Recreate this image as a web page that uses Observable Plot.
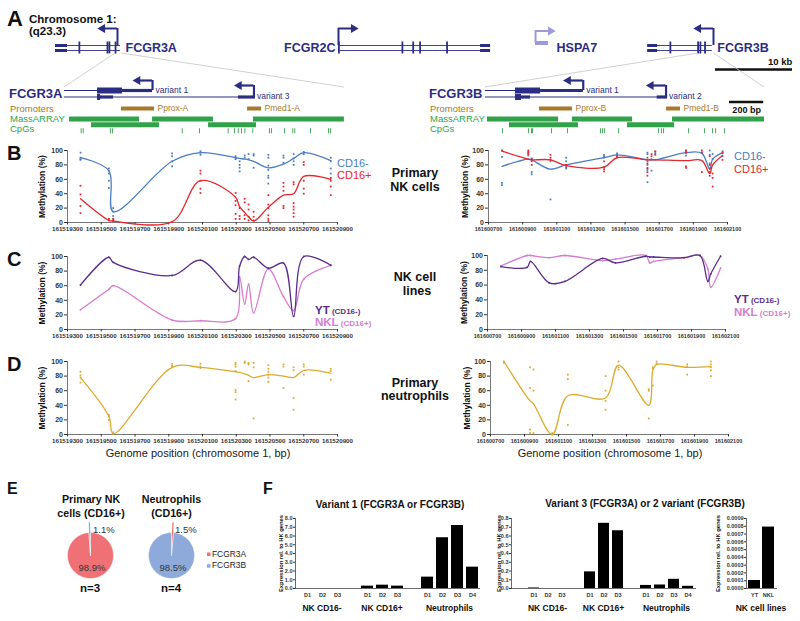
<!DOCTYPE html>
<html><head><meta charset="utf-8">
<script src="https://cdn.jsdelivr.net/npm/d3@7"></script>
<script src="https://cdn.jsdelivr.net/npm/@observablehq/plot@0.6"></script>
<style>
html,body{margin:0;padding:0;background:#fff}
#fig{position:relative;width:800px;height:621px;overflow:hidden;background:#fff}
</style></head>
<body><div id="fig"></div>
<script>
// ---------------- DATA ----------------
// Panel A, chromosome overview (kb from left end of shown region)
const topGenes = [
  {name: "FCGR3A", start: 0, end: 8.44, strand: "-", tss: 8.05},
  {name: "FCGR2C", start: 36.75, end: 56.5, strand: "+", tss: 36.75},
  {name: "FCGR3B", start: 76.9, end: 85.3, strand: "-", tss: 85.45}
];
const hspa7 = [{name: "HSPA7", start: 62.34, end: 64.03, strand: "+", tss: 62.34}];
const topUtr = [{start: 0, end: 1.56}, {start: 55.2, end: 56.5}, {start: 76.9, end: 78.2}];
const topExons = [3.1, 6.75, 7.0, 7.8, 36.8, 45.05, 46.45, 47.35, 50.85, 79.85, 83.45, 83.75, 84.35];
const topScaleKb = 10;

// Panel A, FCGR3A detail (chr1 bp)
const fcgr3aTranscripts = [
  {label: "variant 1", start: 161519282, tss: 161519804, strand: "-"},
  {label: "variant 3", start: 161519282, tss: 161520405, strand: "-"}
];
const fcgr3aExons = [
  {t: 0, start: 161519478, end: 161519626, kind: "cds"},
  {t: 0, start: 161519626, end: 161519804, kind: "utr"},
  {t: 1, start: 161519478, end: 161519496, kind: "cds"},
  {t: 1, start: 161519478, end: 161519573, kind: "utr"},
  {t: 1, start: 161520313, end: 161520414, kind: "utr"}
];
const fcgr3aPromoters = [{name: "Pprox-A", start: 161519620, end: 161519816}, {name: "Pmed1-A", start: 161520367, end: 161520450}];
const fcgr3aMassArray = [[161519312, 161519727], [161519442, 161519845], [161519804, 161520165], [161520136, 161520420], [161520402, 161520941]];
const fcgr3aCpGs = [161519381, 161519393, 161519555, 161519567, 161519980, 161520082, 161520252, 161520290, 161520312, 161520331, 161520351, 161520398, 161520497, 161520509, 161520586, 161520635, 161520647, 161520740, 161520847, 161520859];

// Panel A, FCGR3B detail (chr1 bp)
const fcgr3bTranscripts = [
  {label: "variant 1", start: 161600682, tss: 161601255, strand: "-"},
  {label: "variant 2", start: 161600682, tss: 161601740, strand: "-"}
];
const fcgr3bExons = [
  {t: 0, start: 161600858, end: 161601005, kind: "cds"},
  {t: 0, start: 161601005, end: 161601255, kind: "utr"},
  {t: 1, start: 161600858, end: 161600893, kind: "cds"},
  {t: 1, start: 161600858, end: 161600946, kind: "utr"},
  {t: 1, start: 161601688, end: 161601749, kind: "utr"}
];
const fcgr3bPromoters = [{name: "Pprox-B", start: 161600999, end: 161601192}, {name: "Pmed1-B", start: 161601743, end: 161601825}];
const fcgr3bMassArray = [[161600694, 161601110], [161600823, 161601227], [161601192, 161601544], [161601514, 161601790], [161601778, 161602317]];
const fcgr3bCpGs = [161600782, 161600934, 161600952, 161600958, 161601069, 161601163, 161601356, 161601368, 161601380, 161601462, 161601696, 161601713, 161601725, 161601872, 161601965, 161602012, 161602030, 161602082];
const detailScaleBar = {start: 161602112, length: 200};

// Methylation: CpG unit positions
const posA = [161519377, 161519545, 161519571, 161519920, 161520088, 161520296, 161520320, 161520350, 161520373, 161520403, 161520490, 161520580, 161520640, 161520700, 161520860];
const posB = [161600779, 161600933, 161600953, 161601063, 161601155, 161601377, 161601453, 161601631, 161601655, 161601677, 161601857, 161601950, 161601996, 161602013, 161602071];
const ticksA = [161519300, 161519500, 161519700, 161519900, 161520100, 161520300, 161520500, 161520700, 161520900];
const ticksB = [161600700, 161600900, 161601100, 161601300, 161601500, 161601700, 161601900, 161602100];
const methTicks = [0, 20, 40, 60, 80, 100];

// B: primary NK cells
const bNkNegA = [[97,90,88,87],[75,72,68,58,48],[20,15,9,5],[96,92,85,78],[99,97,94],[92,89,88],[85,80,76,71],[93,90],[95,88],[95,93,76],[94,90,79,73,65,62,54],[93,90,83],[95,89,85,80],[98,95],[90,85,75,68]];
const bNkNegAFit = [90,72,15,85,97,90,89,88,87,85,76,81,89,97,86];
const bNkPosA = [[51,39,23,13],[5,3],[5,3,2],[1],[72,68,58,47,41],[41,30,24,12,5],[20,9,5],[33,28,10,5],[25,18,8,3],[15,8,3],[38,25,20,10,5,2],[55,50,44,23,20],[56,53,27,22,18,13,8],[84,80,58,47,40],[62,58,50,38]];
const bNkPosAFit = [33,3,2,1,58,35,22,14,8,2,21,38,40,64,60];
const bNkNegB = [[91,55,52],[98,93],[89,87,70,67],[85,32],[90,85,80,75],[94,92,90],[96,94],[97,95,85,80,76,73,56],[88,72],[98,96],[99,97,93],[],[100,94,82],[95,88],[99,96,92]];
const bNkNegBFit = [78,88,87,74,80,90,94,87,87,87,97,96,74,88,97];
const bNkPosB = [[100],[100,97,95],[88,85,80],[94,90,87],[80,77],[85,77,74,71],[92,90],[90,82,75,70,65],[95,92],[99,94],[100,97,78,76],[100,97,70],[92,80,75,70,65],[68,62,50],[97,87]];
const bNkPosBFit = [99,88,87,87,79,77,90,87,87,87,86,86,68,80,93];

// C: NK cell lines
const cYtA  = [61,99,92,74,95,52,87,100,96,99,84,91,18,100,88];
const cNklA = [27,55,60,13,12,15,72,35,62,23,83,45,26,69,88];
const cYtB  = [85,84,92,63,65,96,90,99,98,98,97,100,65,75,99];
const cNklB = [86,100,100,97,100,93,95,100,90,92,97,100,82,57,83];

// D: primary neutrophils
const dNeutA = [[86,81,78,71],[27,25,20],[3,1],[97,94,92],[97,93,91],[98,96,93,87,61,58,48],[],[100,98],[98,96,73],[98,92,22],[95,90,86,82,78,72],[96,93,64],[92,88,50,34],[96,93,82],[90,87,75]];
const dNeutAFit = [78,25,1,92,92,86,85,83,81,78,82,80,78,88,84];
const dNeutB = [[100,98],[92,64,7,2],[89,60,2],[2,0],[82,76,13],[80,60,46,34],[100,92,89],[62,60,22],[92,90,67],[100,97],[96,93,82],[],[100,96,92,88,80],[],[]];
const dNeutBFit = [100,46,42,0,53,50,95,40,88,96,92,null,93,null,null];

// E: pies (FCGR3A, FCGR3B %)
const pieGenes = ["FCGR3A", "FCGR3B"];
const pieNK = [98.9, 1.1];
const pieNeut = [1.5, 98.5];

// F: expression bars
const fGroups = ["NK CD16-", "NK CD16+", "Neutrophils"];
const fDonors = [["D1","D2","D3"], ["D1","D2","D3"], ["D1","D2","D3","D4"]];
const v1Values = [[0, 0, 0], [0.27, 0.38, 0.27], [1.3, 5.8, 7.2, 2.44]];
const v3Values = [[0.006, 0, 0], [0.19, 0.745, 0.66], [0.035, 0.04, 0.105, 0.025]];
const cellLines = ["YT", "NKL"];
const v3CellLineValues = [0.000103, 0.00079];
const v1Ticks = [0, 1, 2, 3, 4, 5, 6, 7, 8];
const v3Ticks = [0, 0.1, 0.2, 0.3, 0.4, 0.5, 0.6, 0.7, 0.8];
const clTicks = [0, 0.0001, 0.0002, 0.0003, 0.0004, 0.0005, 0.0006, 0.0007, 0.0008, 0.0009];

// ---------------- STYLE ----------------
const FONT = '"Liberation Sans", Arial, Helvetica, sans-serif';
const navy = "#2b2d85", lightPurple = "#9c9ad8", brown = "#a8792c", green = "#31a24a";
const cNeg = "#4a7dc2", cPos = "#e5262b", cYT = "#5b2d8e", cNKL = "#d47ccf", cNeut = "#dcaa2f";
const cA = "#ef7176", cB = "#8eaadb";
const baseStyle = {background: "transparent", fontFamily: FONT, overflow: "visible"};
const fig = document.getElementById("fig");
function place(el, left, top) {
  el.style.position = "absolute"; el.style.left = left + "px"; el.style.top = top + "px";
  fig.appendChild(el); return el;
}

// ---------------- PANEL A: overview ----------------
const arrowKb = 1.95;
const geneColor = n => n === "HSPA7" ? lightPurple : navy;
const allTss = [...topGenes, ...hspa7].map(g => ({...g,
  base: g.name === "HSPA7" ? -0.5 : 0, top: g.name === "HSPA7" ? -2.9 : -3.4,
  head: g.strand === "-" ? g.tss - arrowKb : g.tss + arrowKb, color: geneColor(g.name)}));
const topLines = topGenes.flatMap(g => [0, 1].map(l => ({...g, lane: l})));
const topUtrLanes = topUtr.flatMap(b => [0, 1].map(l => ({...b, lane: l})));
const topPlot = Plot.plot({
  width: 800, height: 80, marginLeft: 55, marginRight: 8, marginTop: 0, marginBottom: 0,
  x: {domain: [0, 95.71], axis: null}, y: {domain: [-9, 7], range: [0, 80], axis: null},
  color: {type: "identity"}, style: baseStyle,
  marks: [
    Plot.ruleY(topLines, {x1: "start", x2: "end", y: "lane", stroke: navy, strokeWidth: 0.9}),
    Plot.ruleY(topUtrLanes, {x1: "start", x2: "end", y: "lane", stroke: navy, strokeWidth: 3}),
    Plot.ruleX(topExons, {x: d => d, y1: -0.7, y2: 1.7, stroke: navy, strokeWidth: 1.8}),
    Plot.ruleY(hspa7, {x1: "start", x2: "end", y: -0.5, stroke: lightPurple, strokeWidth: 4}),
    Plot.ruleX(allTss, {x: "tss", y1: "base", y2: "top", stroke: "color", strokeWidth: 2}),
    Plot.ruleY(allTss, {x1: "tss", x2: "head", y: "top", stroke: "color", strokeWidth: 2}),
    Plot.dot(allTss, {x: "head", y: "top", symbol: "triangle", r: 3.3, fill: "color", rotate: d => d.strand === "-" ? -90 : 90}),
    Plot.text(topGenes.filter(g => g.strand === "-"), {x: "end", y: 0.5, text: "name", dx: 5, textAnchor: "start", fontSize: 12.5, fontWeight: "bold", fill: navy}),
    Plot.text(topGenes.filter(g => g.strand === "+"), {x: "start", y: 0.5, text: "name", dx: -3, textAnchor: "end", fontSize: 12.5, fontWeight: "bold", fill: navy}),
    Plot.text(hspa7, {x: "end", y: 0.5, text: "name", dx: 8, textAnchor: "start", fontSize: 12.5, fontWeight: "bold", fill: navy}),
    Plot.ruleY([topScaleKb], {x1: d => 95.71 - d, x2: 95.71, y: 4.8, stroke: "#111", strokeWidth: 2.5}),
    Plot.text([topScaleKb], {x: 95.71 - 1.6, y: 3.3, text: d => d + " kb", textAnchor: "middle", fontSize: 9.5, fontWeight: "bold", fill: "#111"})
  ]
});
place(topPlot, 0, 0);

// ---------------- PANEL A: detail tracks ----------------
function detailPlot(o) {
  const [fl, fr] = o.frame, left = o.left;
  const tLane = [3, 4.3], tTop = [1, 2], tLabel = [2.9, 4.15];
  const tr = o.transcripts.map((t, i) => ({...t, lane: tLane[i], top: tTop[i], labelLane: tLabel[i],
    head: t.strand === "-" ? t.tss - 88 : t.tss + 88}));
  const ex = o.exons.map(e => ({...e, lane: tLane[e.t]}));
  const mass = o.mass.map((m, i) => ({start: m[0], end: m[1], row: i % 2}));
  const marks = [
    Plot.ruleY(tr, {x1: "start", x2: "tss", y: "lane", stroke: navy, strokeWidth: 1}),
    Plot.ruleY(ex.filter(e => e.kind === "utr"), {x1: "start", x2: "end", y: "lane", stroke: navy, strokeWidth: 3.2}),
    Plot.ruleY(ex.filter(e => e.kind === "cds"), {x1: "start", x2: "end", y: "lane", stroke: navy, strokeWidth: 6}),
    Plot.ruleX(tr, {x: "tss", y1: "lane", y2: "top", stroke: navy, strokeWidth: 2.2}),
    Plot.ruleY(tr, {x1: "tss", x2: "head", y: "top", stroke: navy, strokeWidth: 2.2}),
    Plot.dot(tr, {x: "head", y: "top", symbol: "triangle", r: 3.3, fill: navy, rotate: -90}),
    Plot.text(tr, {x: "tss", y: "labelLane", text: "label", dx: 3, textAnchor: "start", fontSize: 8.5, fill: navy}),
    Plot.ruleY(o.promoters, {x1: "start", x2: "end", y: 6.6, stroke: brown, strokeWidth: 4}),
    Plot.text(o.promoters, {x: "end", y: 6.6, text: "name", dx: 3, textAnchor: "start", fontSize: 8.5, fill: brown}),
    Plot.ruleY(mass, {x1: "start", x2: "end", y: d => d.row === 0 ? 8.7 : 9.85, stroke: green, strokeWidth: 5}),
    Plot.ruleX(o.cpgs, {x: d => d, y1: 10.65, y2: 11.65, stroke: green, strokeWidth: 0.9})
  ];
  if (o.scaleBar) {
    marks.push(Plot.ruleY([o.scaleBar], {x1: "start", x2: d => d.start + d.length, y: 5.3, stroke: "#111", strokeWidth: 2.3}));
    marks.push(Plot.text([o.scaleBar], {x: d => d.start + d.length / 2, y: 6.9, text: d => d.length + " bp", fontSize: 9, fontWeight: "bold", fill: "#111"}));
  }
  const p = Plot.plot({
    width: 400, height: 63, marginLeft: fl - left, marginRight: left + 400 - fr, marginTop: 0, marginBottom: 0,
    x: {domain: o.domain, axis: null}, y: {domain: [0, 12.6], range: [0, 63], axis: null},
    style: baseStyle, marks
  });
  return place(p, left, 75);
}
const detA = detailPlot({left: 0, frame: [67, 337], domain: [161519300, 161520900], transcripts: fcgr3aTranscripts, exons: fcgr3aExons, promoters: fcgr3aPromoters, mass: fcgr3aMassArray, cpgs: fcgr3aCpGs});
const detB = detailPlot({left: 400, frame: [488, 727], domain: [161600700, 161602100], transcripts: fcgr3bTranscripts, exons: fcgr3bExons, promoters: fcgr3bPromoters, mass: fcgr3bMassArray, cpgs: fcgr3bCpGs, scaleBar: detailScaleBar});

// ---------------- B, C, D: methylation ----------------
const toPoints = (pos, arr) => arr.flatMap((vals, i) => vals.map(v => ({x: pos[i], y: v})));
const toFit = (pos, arr) => arr.map((v, i) => ({x: pos[i], y: v})).filter(d => d.y != null);
function methChart(o) {
  const [fl, fr, ft, fb] = o.frame;
  const mt = 8, mb = 20;
  const marks = [
    Plot.ruleY([0], {stroke: "#555", strokeWidth: 0.8}),
    Plot.ruleX([o.domain[0]], {stroke: "#555", strokeWidth: 0.8}),
    Plot.axisY({ticks: methTicks, tickSize: 3, tickPadding: 1.5, fontSize: 7, fontWeight: "bold", color: "#333", label: null}),
    Plot.axisX({ticks: o.ticks, tickSize: 2.5, tickPadding: 2, tickFormat: d => String(d), fontSize: o.tickFont, fontWeight: "bold", color: "#333", label: null}),
    Plot.text(["Methylation (%)"], {frameAnchor: "left", textAnchor: "middle", rotate: -90, dx: o.titleDx, fontSize: 8.5, fontWeight: "bold", fill: "#111"})
  ];
  for (const s of o.series) {
    if (s.points) marks.push(Plot.dot(toPoints(o.pos, s.points), {x: "x", y: "y", symbol: "square", r: 1, fill: s.color}));
    const fit = toFit(o.pos, s.fit);
    marks.push(Plot.line(fit, {x: "x", y: "y", curve: "catmull-rom", stroke: s.color, strokeWidth: 1.3}));
    if (s.vertices) marks.push(Plot.dot(fit, {x: "x", y: "y", r: 0.9, fill: s.color}));
  }
  const p = Plot.plot({
    width: 400, height: fb - ft + mt + mb, marginLeft: fl - o.left, marginRight: o.left + 400 - fr, marginTop: mt, marginBottom: mb,
    x: {domain: o.domain}, y: {domain: [0, 100]}, style: baseStyle, marks
  });
  return place(p, o.left, ft - mt);
}
const domA = [161519300, 161520900], domB = [161600700, 161602100];
methChart({left: 0, frame: [67, 337, 150, 222], domain: domA, ticks: ticksA, pos: posA, tickFont: 6.2, titleDx: -25,
  series: [{points: bNkNegA, fit: bNkNegAFit, color: cNeg}, {points: bNkPosA, fit: bNkPosAFit, color: cPos}]});
methChart({left: 400, frame: [488, 727, 150, 222], domain: domB, ticks: ticksB, pos: posB, tickFont: 5.5, titleDx: -23,
  series: [{points: bNkNegB, fit: bNkNegBFit, color: cNeg}, {points: bNkPosB, fit: bNkPosBFit, color: cPos}]});
methChart({left: 0, frame: [67, 337, 256, 329], domain: domA, ticks: ticksA, pos: posA, tickFont: 6.2, titleDx: -25,
  series: [{fit: cNklA, color: cNKL, vertices: true}, {fit: cYtA, color: cYT, vertices: true}]});
methChart({left: 400, frame: [487, 725, 255, 329], domain: domB, ticks: ticksB, pos: posB, tickFont: 5.5, titleDx: -23,
  series: [{fit: cNklB, color: cNKL, vertices: true}, {fit: cYtB, color: cYT, vertices: true}]});
methChart({left: 0, frame: [67, 337, 361, 434], domain: domA, ticks: ticksA, pos: posA, tickFont: 6.2, titleDx: -25,
  series: [{points: dNeutA, fit: dNeutAFit, color: cNeut}]});
methChart({left: 400, frame: [490, 728, 361, 434], domain: domB, ticks: ticksB, pos: posB, tickFont: 5.5, titleDx: -23,
  series: [{points: dNeutB, fit: dNeutBFit, color: cNeut}]});

// ---------------- E: pies ----------------
function pieChart(values, cx, cy, r) {
  const colors = [cA, cB];
  const poly = []; let a = 0;
  values.forEach((v, i) => {
    const a0 = a, a1 = a + v / 100 * 2 * Math.PI; a = a1;
    const n = Math.max(2, Math.ceil((a1 - a0) / 0.04));
    poly.push({slice: i, x: 0, y: 0, color: colors[i]});
    for (let k = 0; k <= n; k++) { const t = a0 + (a1 - a0) * k / n; poly.push({slice: i, x: Math.sin(t), y: Math.cos(t), color: colors[i]}); }
    poly.push({slice: i, x: 0, y: 0, color: colors[i]});
  });
  const iMin = values.indexOf(Math.min(...values));
  const startMin = values.slice(0, iMin).reduce((s, v) => s + v, 0);
  const mid = (startMin + values[iMin] / 2) / 100 * 2 * Math.PI;
  const leader = [1.0, 1.42].map(k => ({x: Math.sin(mid) * k, y: Math.cos(mid) * k}));
  const p = Plot.plot({
    width: 2 * r + 6, height: 2 * r + 20, marginLeft: 3, marginRight: 3, marginTop: 17, marginBottom: 3,
    x: {domain: [-1, 1], axis: null}, y: {domain: [-1, 1], axis: null}, color: {type: "identity"}, style: baseStyle,
    marks: [
      Plot.line(poly, {x: "x", y: "y", z: "slice", fill: "color", stroke: "white", strokeWidth: 0.5}),
      Plot.line(leader, {x: "x", y: "y", stroke: colors[iMin], strokeWidth: 1.3})
    ]
  });
  return place(p, cx - r - 3, cy - r - 17);
}
pieChart(pieNK, 89.7, 555, 23);
pieChart(pieNeut, 171, 555, 23);

// ---------------- F: bars ----------------
function buildBars(groups, donors, values) {
  const rows = [], domain = [];
  groups.forEach((g, gi) => {
    if (gi > 0) domain.push("gap" + gi);
    donors[gi].forEach((d, i) => { const key = g + "|" + d; domain.push(key); rows.push({key, label: d, group: g, value: values[gi][i]}); });
  });
  return {rows, domain};
}
function barChart(o) {
  const [fl, fr] = o.frame, ft = 518, fb = 588, ml = 40, mr = 8, mt = 6, mb = 14;
  const p = Plot.plot({
    width: fr - fl + ml + mr, height: fb - ft + mt + mb, marginLeft: ml, marginRight: mr, marginTop: mt, marginBottom: mb,
    x: {domain: o.domain, paddingInner: o.pi, paddingOuter: o.po, align: o.align},
    y: {domain: [0, o.ticks[o.ticks.length - 1]]}, style: baseStyle,
    marks: [
      Plot.barY(o.rows, {x: "key", y: "value", fill: "#000"}),
      Plot.ruleY([0], {stroke: "#444", strokeWidth: 0.8}),
      Plot.frame({anchor: "left", stroke: "#444", strokeWidth: 0.8}),
      Plot.axisY({ticks: o.ticks, tickFormat: d3.format(o.fmt), tickSize: 2, tickPadding: 1, fontSize: 5.5, fontWeight: "bold", color: "#333", label: null}),
      Plot.axisX({tickSize: 0, tickPadding: 5, tickFormat: k => (o.rows.find(r => r.key === k) || {label: ""}).label, fontSize: 5.5, fontWeight: "bold", color: "#333", label: null}),
      Plot.text(["Expression rel. to HK genes"], {frameAnchor: "left", textAnchor: "middle", rotate: -90, dx: o.titleDx, fontSize: 5.8, fontWeight: "bold", fill: "#111"})
    ]
  });
  place(p, fl - ml, ft - mt);
  return {plot: p, left: fl - ml};
}
const b1 = buildBars(fGroups, fDonors, v1Values);
const f1 = barChart({...b1, frame: [295, 480], pi: 0.2, po: 0.245, align: 0.81, ticks: v1Ticks, fmt: ".1f", titleDx: -14});
const b2 = buildBars(fGroups, fDonors, v3Values);
const f2 = barChart({...b2, frame: [511, 696], pi: 0.2, po: 0.39, align: 0.875, ticks: v3Ticks, fmt: ".1f", titleDx: -12});
const b3 = buildBars(["NK cell lines"], [cellLines], [v3CellLineValues]);
const f3 = barChart({...b3, frame: [746, 777], pi: 0.12, po: 0.15, align: 0.5, ticks: clTicks, fmt: ".4f", titleDx: -28});

// ---------------- annotation overlay ----------------
const ann = d3.select(fig).append("svg").attr("width", 800).attr("height", 621)
  .style("position", "absolute").style("left", "0px").style("top", "0px").style("overflow", "visible")
  .attr("font-family", FONT);

// zoom connectors computed from the scales
const zoomLinks = [{kb: 7.8, bp: 161519282, det: 0}, {kb: 8.6, bp: 161520941, det: 0}, {kb: 83.5, bp: 161600682, det: 1}, {kb: 85.5, bp: 161602317, det: 1}];
const dets = [{p: detA, left: 0}, {p: detB, left: 400}];
const tx = topPlot.scale("x"), ty = topPlot.scale("y");
zoomLinks.forEach(l => {
  const d = dets[l.det];
  ann.append("line").attr("x1", tx.apply(l.kb)).attr("y1", ty.apply(1.6))
    .attr("x2", d.p.scale("x").apply(l.bp) + d.left).attr("y2", 75 + d.p.scale("y").apply(2.4))
    .attr("stroke", "#c4c4c4").attr("stroke-width", 0.8);
});

function T(x, y, parts, o = {}) {
  const t = ann.append("text").attr("x", x).attr("y", y).attr("text-anchor", o.anchor || "start")
    .attr("font-size", o.size || 10).attr("font-weight", o.weight || "normal").attr("fill", o.color || "#111");
  if (typeof parts === "string") t.text(parts);
  else parts.forEach(p => t.append("tspan").attr("font-size", p.size).attr("font-weight", p.weight || null).text(p.text));
}
// panel letters
T(7, 26, "A", {size: 22, weight: "bold"});
T(7, 160, "B", {size: 20, weight: "bold"});
T(7, 266, "C", {size: 20, weight: "bold"});
T(7, 371, "D", {size: 20, weight: "bold"});
T(7, 494, "E", {size: 16, weight: "bold"});
T(263, 494, "F", {size: 16, weight: "bold"});
// A labels
T(29, 23, "Chromosome 1:", {size: 11.5, weight: "bold"});
T(29, 35, "(q23.3)", {size: 11.5, weight: "bold"});
[[9, "FCGR3A"], [429, "FCGR3B"]].forEach(([x, s]) => {
  T(x, 98, s, {size: 13, weight: "bold", color: navy});
  T(x + 1, 111.5, "Promoters", {size: 9.5, color: brown});
  T(x + 1, 121.5, "MassARRAY", {size: 9.5, color: green});
  T(x + 1, 132, "CpGs", {size: 9.5, color: green});
});
// B legends and row labels
T(337, 166.5, "CD16-", {size: 11, color: cNeg});
T(337, 179, "CD16+", {size: 11, color: cPos});
T(734, 160, "CD16-", {size: 11, color: cNeg});
T(734, 172.5, "CD16+", {size: 11, color: cPos});
T(415, 177, "Primary", {size: 12.5, weight: "bold", anchor: "middle"});
T(415, 191, "NK cells", {size: 12.5, weight: "bold", anchor: "middle"});
T(415, 281, "NK cell", {size: 12.5, weight: "bold", anchor: "middle"});
T(417, 294.5, "lines", {size: 12.5, weight: "bold", anchor: "middle"});
T(415, 387, "Primary", {size: 12.5, weight: "bold", anchor: "middle"});
T(415, 400, "neutrophils", {size: 12.5, weight: "bold", anchor: "middle"});
// C legends
T(315, 314, [{text: "YT", size: 11.5}, {text: " (CD16-)", size: 8}], {weight: "bold", color: cYT});
T(315, 326, [{text: "NKL", size: 11.5}, {text: " (CD16+)", size: 8}], {weight: "bold", color: cNKL});
T(734, 303, [{text: "YT", size: 11.5}, {text: " (CD16-)", size: 8}], {weight: "bold", color: cYT});
T(734, 316, [{text: "NKL", size: 11.5}, {text: " (CD16+)", size: 8}], {weight: "bold", color: cNKL});
// D x titles
T(198, 457, "Genome position (chromosome 1, bp)", {size: 11, anchor: "middle", color: "#1a1a1a"});
T(610, 457, "Genome position (chromosome 1, bp)", {size: 11, anchor: "middle", color: "#1a1a1a"});
// E texts
T(91, 502.5, "Primary NK", {size: 10.7, weight: "bold", anchor: "middle"});
T(91, 516.5, "cells (CD16+)", {size: 10.7, weight: "bold", anchor: "middle"});
T(171.5, 502.5, "Neutrophils", {size: 10.7, weight: "bold", anchor: "middle"});
T(171.5, 516.5, "(CD16+)", {size: 10.7, weight: "bold", anchor: "middle"});
T(93, 533, pieNK[1] + "%", {size: 9.5, color: "#333"});
T(175, 533, pieNeut[0] + "%", {size: 9.5, color: "#333"});
T(92, 571, pieNK[0] + "%", {size: 9.5, anchor: "middle", color: "#333"});
T(173, 571, pieNeut[1] + "%", {size: 9.5, anchor: "middle", color: "#333"});
T(90, 591.5, "n=3", {size: 11.5, weight: "bold", anchor: "middle"});
T(171, 591.5, "n=4", {size: 11.5, weight: "bold", anchor: "middle"});
pieGenes.forEach((g, i) => {
  ann.append("rect").attr("x", 207).attr("y", 552.5 + i * 11.7).attr("width", 3.5).attr("height", 3.5).attr("fill", [cA, cB][i]);
  T(212, 556.5 + i * 11.7, g, {size: 8.4, color: "#222"});
});
// F titles and group labels
T(390, 507.5, "Variant 1 (FCGR3A or FCGR3B)", {size: 10, weight: "bold", anchor: "middle"});
T(645, 507, "Variant 3 (FCGR3A) or 2 variant (FCGR3B)", {size: 10, weight: "bold", anchor: "middle"});
[[f1, b1], [f2, b2], [f3, b3]].forEach(([f, b]) => {
  const sx = f.plot.scale("x");
  const groups = [...new Set(b.rows.map(r => r.group))];
  groups.forEach(g => {
    const cs = b.rows.filter(r => r.group === g).map(r => sx.apply(r.key) + sx.bandwidth / 2);
    const c = (Math.min(...cs) + Math.max(...cs)) / 2 + f.left;
    T(c, 610.5, g, {size: 8.5, weight: "bold", anchor: "middle"});
  });
});
</script></body></html>
